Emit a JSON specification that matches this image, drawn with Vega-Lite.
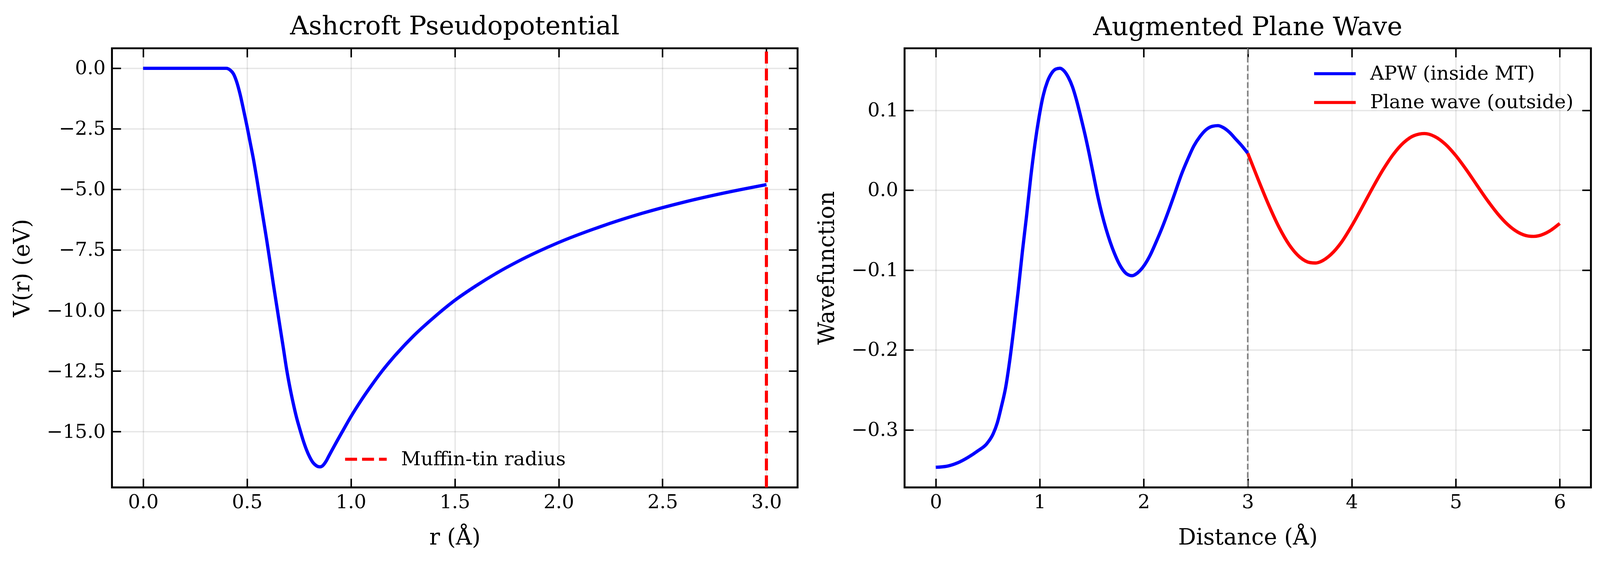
{
  "$schema": "https://vega.github.io/schema/vega-lite/v6.json",
  "background": "white",
  "padding": {"left": 25.6, "top": 31.6, "right": 25, "bottom": 30},
  "bounds": "flush",
  "spacing": 273.1,
  "datasets": {
    "ashcroft": [
      {"r": 0.0, "V": 0.0}, {"r": 0.1, "V": 0.0}, {"r": 0.2, "V": 0.0}, {"r": 0.3, "V": 0.0},
      {"r": 0.4, "V": 0.0}, {"r": 0.42, "V": -0.08}, {"r": 0.435, "V": -0.23}, {"r": 0.45, "V": -0.55},
      {"r": 0.467, "V": -1.08}, {"r": 0.483, "V": -1.7}, {"r": 0.5, "V": -2.39}, {"r": 0.515, "V": -3.05},
      {"r": 0.531, "V": -3.75}, {"r": 0.547, "V": -4.55}, {"r": 0.563, "V": -5.4}, {"r": 0.579, "V": -6.25},
      {"r": 0.595, "V": -7.1}, {"r": 0.611, "V": -8.0}, {"r": 0.627, "V": -8.92}, {"r": 0.643, "V": -9.8},
      {"r": 0.659, "V": -10.68}, {"r": 0.675, "V": -11.55}, {"r": 0.69, "V": -12.39}, {"r": 0.706, "V": -13.15},
      {"r": 0.722, "V": -13.81}, {"r": 0.738, "V": -14.4}, {"r": 0.754, "V": -14.89}, {"r": 0.77, "V": -15.35},
      {"r": 0.786, "V": -15.74}, {"r": 0.802, "V": -16.05}, {"r": 0.818, "V": -16.28}, {"r": 0.83, "V": -16.38},
      {"r": 0.842, "V": -16.44}, {"r": 0.853, "V": -16.45}, {"r": 0.862, "V": -16.42}, {"r": 0.871, "V": -16.34},
      {"r": 0.882, "V": -16.2}, {"r": 0.893, "V": -16.02}, {"r": 0.91, "V": -15.75}, {"r": 0.935, "V": -15.36},
      {"r": 0.96, "V": -14.98}, {"r": 1.0, "V": -14.38}, {"r": 1.05, "V": -13.7}, {"r": 1.1, "V": -13.08},
      {"r": 1.15, "V": -12.5}, {"r": 1.2, "V": -11.98}, {"r": 1.3, "V": -11.06}, {"r": 1.4, "V": -10.28},
      {"r": 1.5, "V": -9.58}, {"r": 1.6, "V": -8.99}, {"r": 1.7, "V": -8.46}, {"r": 1.8, "V": -7.99},
      {"r": 1.9, "V": -7.57}, {"r": 2.0, "V": -7.19}, {"r": 2.2, "V": -6.54}, {"r": 2.4, "V": -5.99},
      {"r": 2.6, "V": -5.53}, {"r": 2.8, "V": -5.14}, {"r": 3.0, "V": -4.8}
    ],
    "apw": [
      {"x": 0.0, "psi": -0.3468, "part": "APW (inside MT)"},
      {"x": 0.109, "psi": -0.3454, "part": "APW (inside MT)"},
      {"x": 0.209, "psi": -0.3413, "part": "APW (inside MT)"},
      {"x": 0.31, "psi": -0.3344, "part": "APW (inside MT)"},
      {"x": 0.41, "psi": -0.3258, "part": "APW (inside MT)"},
      {"x": 0.491, "psi": -0.3173, "part": "APW (inside MT)"},
      {"x": 0.551, "psi": -0.3052, "part": "APW (inside MT)"},
      {"x": 0.591, "psi": -0.2915, "part": "APW (inside MT)"},
      {"x": 0.631, "psi": -0.2709, "part": "APW (inside MT)"},
      {"x": 0.672, "psi": -0.2469, "part": "APW (inside MT)"},
      {"x": 0.712, "psi": -0.2125, "part": "APW (inside MT)"},
      {"x": 0.752, "psi": -0.1713, "part": "APW (inside MT)"},
      {"x": 0.792, "psi": -0.1267, "part": "APW (inside MT)"},
      {"x": 0.833, "psi": -0.0769, "part": "APW (inside MT)"},
      {"x": 0.873, "psi": -0.0323, "part": "APW (inside MT)"},
      {"x": 0.913, "psi": 0.0158, "part": "APW (inside MT)"},
      {"x": 0.953, "psi": 0.057, "part": "APW (inside MT)"},
      {"x": 0.993, "psi": 0.0913, "part": "APW (inside MT)"},
      {"x": 1.034, "psi": 0.1188, "part": "APW (inside MT)"},
      {"x": 1.074, "psi": 0.136, "part": "APW (inside MT)"},
      {"x": 1.114, "psi": 0.1463, "part": "APW (inside MT)"},
      {"x": 1.154, "psi": 0.1514, "part": "APW (inside MT)"},
      {"x": 1.194, "psi": 0.1525, "part": "APW (inside MT)"},
      {"x": 1.235, "psi": 0.149, "part": "APW (inside MT)"},
      {"x": 1.275, "psi": 0.1411, "part": "APW (inside MT)"},
      {"x": 1.315, "psi": 0.1291, "part": "APW (inside MT)"},
      {"x": 1.355, "psi": 0.1119, "part": "APW (inside MT)"},
      {"x": 1.395, "psi": 0.0913, "part": "APW (inside MT)"},
      {"x": 1.436, "psi": 0.069, "part": "APW (inside MT)"},
      {"x": 1.476, "psi": 0.045, "part": "APW (inside MT)"},
      {"x": 1.516, "psi": 0.0192, "part": "APW (inside MT)"},
      {"x": 1.556, "psi": -0.0065, "part": "APW (inside MT)"},
      {"x": 1.597, "psi": -0.0294, "part": "APW (inside MT)"},
      {"x": 1.637, "psi": -0.0485, "part": "APW (inside MT)"},
      {"x": 1.677, "psi": -0.0648, "part": "APW (inside MT)"},
      {"x": 1.717, "psi": -0.0788, "part": "APW (inside MT)"},
      {"x": 1.757, "psi": -0.0905, "part": "APW (inside MT)"},
      {"x": 1.798, "psi": -0.0995, "part": "APW (inside MT)"},
      {"x": 1.838, "psi": -0.105, "part": "APW (inside MT)"},
      {"x": 1.888, "psi": -0.1071, "part": "APW (inside MT)"},
      {"x": 1.939, "psi": -0.1037, "part": "APW (inside MT)"},
      {"x": 2.005, "psi": -0.0941, "part": "APW (inside MT)"},
      {"x": 2.059, "psi": -0.0821, "part": "APW (inside MT)"},
      {"x": 2.119, "psi": -0.0649, "part": "APW (inside MT)"},
      {"x": 2.18, "psi": -0.046, "part": "APW (inside MT)"},
      {"x": 2.24, "psi": -0.0254, "part": "APW (inside MT)"},
      {"x": 2.301, "psi": -0.0031, "part": "APW (inside MT)"},
      {"x": 2.361, "psi": 0.0192, "part": "APW (inside MT)"},
      {"x": 2.421, "psi": 0.0381, "part": "APW (inside MT)"},
      {"x": 2.482, "psi": 0.0553, "part": "APW (inside MT)"},
      {"x": 2.542, "psi": 0.0673, "part": "APW (inside MT)"},
      {"x": 2.602, "psi": 0.0759, "part": "APW (inside MT)"},
      {"x": 2.663, "psi": 0.08, "part": "APW (inside MT)"},
      {"x": 2.713, "psi": 0.0807, "part": "APW (inside MT)"},
      {"x": 2.764, "psi": 0.0783, "part": "APW (inside MT)"},
      {"x": 2.824, "psi": 0.0724, "part": "APW (inside MT)"},
      {"x": 2.884, "psi": 0.0639, "part": "APW (inside MT)"},
      {"x": 2.944, "psi": 0.0553, "part": "APW (inside MT)"},
      {"x": 3.0, "psi": 0.0462, "part": "APW (inside MT)"},
      {"x": 3.0, "psi": 0.0462, "part": "Plane wave (outside)"},
      {"x": 3.1, "psi": 0.0134, "part": "Plane wave (outside)"},
      {"x": 3.2, "psi": -0.0181, "part": "Plane wave (outside)"},
      {"x": 3.3, "psi": -0.0462, "part": "Plane wave (outside)"},
      {"x": 3.4, "psi": -0.0686, "part": "Plane wave (outside)"},
      {"x": 3.5, "psi": -0.0837, "part": "Plane wave (outside)"},
      {"x": 3.6, "psi": -0.0907, "part": "Plane wave (outside)"},
      {"x": 3.65, "psi": -0.0912, "part": "Plane wave (outside)"},
      {"x": 3.7, "psi": -0.0895, "part": "Plane wave (outside)"},
      {"x": 3.8, "psi": -0.0805, "part": "Plane wave (outside)"},
      {"x": 3.9, "psi": -0.0654, "part": "Plane wave (outside)"},
      {"x": 4.0, "psi": -0.0447, "part": "Plane wave (outside)"},
      {"x": 4.1, "psi": -0.0214, "part": "Plane wave (outside)"},
      {"x": 4.2, "psi": 0.0027, "part": "Plane wave (outside)"},
      {"x": 4.3, "psi": 0.0254, "part": "Plane wave (outside)"},
      {"x": 4.4, "psi": 0.0448, "part": "Plane wave (outside)"},
      {"x": 4.5, "psi": 0.0595, "part": "Plane wave (outside)"},
      {"x": 4.6, "psi": 0.0683, "part": "Plane wave (outside)"},
      {"x": 4.7, "psi": 0.0708, "part": "Plane wave (outside)"},
      {"x": 4.8, "psi": 0.067, "part": "Plane wave (outside)"},
      {"x": 4.9, "psi": 0.0575, "part": "Plane wave (outside)"},
      {"x": 5.0, "psi": 0.0433, "part": "Plane wave (outside)"},
      {"x": 5.1, "psi": 0.0259, "part": "Plane wave (outside)"},
      {"x": 5.2, "psi": 0.0069, "part": "Plane wave (outside)"},
      {"x": 5.3, "psi": -0.012, "part": "Plane wave (outside)"},
      {"x": 5.4, "psi": -0.0291, "part": "Plane wave (outside)"},
      {"x": 5.5, "psi": -0.0431, "part": "Plane wave (outside)"},
      {"x": 5.6, "psi": -0.0528, "part": "Plane wave (outside)"},
      {"x": 5.7, "psi": -0.0575, "part": "Plane wave (outside)"},
      {"x": 5.75, "psi": -0.0579, "part": "Plane wave (outside)"},
      {"x": 5.8, "psi": -0.057, "part": "Plane wave (outside)"},
      {"x": 5.9, "psi": -0.0514, "part": "Plane wave (outside)"},
      {"x": 6.0, "psi": -0.0417, "part": "Plane wave (outside)"}
    ]
  },
  "hconcat": [
    {
      "width": 1755.2,
      "height": 1124.1,
      "title": {"text": "Ashcroft Pseudopotential"},
      "layer": [
        {
          "data": {"name": "ashcroft"},
          "mark": {"type": "line", "color": "#0000ff", "strokeWidth": 8.4, "interpolate": "monotone"},
          "encoding": {
            "x": {"field": "r", "type": "quantitative",
                  "scale": {"domain": [-0.15, 3.15], "nice": false, "zero": false},
                  "axis": {"title": "r (Å)", "values": [0, 0.5, 1, 1.5, 2, 2.5, 3], "format": ".1f"}},
            "y": {"field": "V", "type": "quantitative",
                  "scale": {"domain": [-17.3, 0.827], "nice": false, "zero": false},
                  "axis": {"title": "V(r) (eV)", "values": [0, -2.5, -5, -7.5, -10, -12.5, -15], "format": ".1f"}}
          }
        },
        {
          "data": {"values": [{"r": 3.0, "label": "Muffin-tin radius"}]},
          "mark": {"type": "rule", "strokeWidth": 7.9, "strokeDash": [30.6, 12.8]},
          "encoding": {
            "x": {"field": "r", "type": "quantitative", "axis": null,
                  "scale": {"domain": [-0.15, 3.15], "nice": false, "zero": false}},
            "y": {"datum": -17.3, "type": "quantitative", "axis": null,
                  "scale": {"domain": [-17.3, 0.827], "nice": false, "zero": false}},
            "y2": {"datum": 0.827},
            "color": {"field": "label", "type": "nominal",
                      "scale": {"domain": ["Muffin-tin radius"], "range": ["#ff0000"]},
                      "legend": {"title": null, "orient": "none", "legendX": 592.6, "legendY": 1027.4,
                                 "symbolDash": [30.6, 12.8]}}
          }
        },
        {
          "data": {"name": "ashcroft"},
          "mark": {"type": "line", "opacity": 0},
          "encoding": {
            "x": {"field": "r", "type": "quantitative",
                  "scale": {"domain": [-0.15, 3.15], "nice": false, "zero": false},
                  "axis": {"orient": "top", "title": null, "labels": false, "grid": false,
                           "values": [0, 0.5, 1, 1.5, 2, 2.5, 3]}},
            "y": {"field": "V", "type": "quantitative",
                  "scale": {"domain": [-17.3, 0.827], "nice": false, "zero": false},
                  "axis": {"orient": "right", "title": null, "labels": false, "grid": false,
                           "values": [0, -2.5, -5, -7.5, -10, -12.5, -15]}}
          }
        }
      ],
      "resolve": {"axis": {"x": "independent", "y": "independent"}}
    },
    {
      "width": 1757.1,
      "height": 1124.1,
      "title": {"text": "Augmented Plane Wave"},
      "layer": [
        {
          "data": {"values": [{"x": 3.0}]},
          "mark": {"type": "rule", "color": "#808080", "strokeWidth": 3.9, "strokeDash": [14.8, 6.9]},
          "encoding": {
            "x": {"field": "x", "type": "quantitative",
                  "scale": {"domain": [-0.3, 6.3], "nice": false, "zero": false},
                  "axis": {"title": "Distance (Å)", "values": [0, 1, 2, 3, 4, 5, 6], "format": "d"}}
          }
        },
        {
          "data": {"name": "apw"},
          "mark": {"type": "line", "strokeWidth": 8.4, "interpolate": "monotone"},
          "encoding": {
            "x": {"field": "x", "type": "quantitative", "axis": null,
                  "scale": {"domain": [-0.3, 6.3], "nice": false, "zero": false}},
            "y": {"field": "psi", "type": "quantitative",
                  "scale": {"domain": [-0.372, 0.1775], "nice": false, "zero": false},
                  "axis": {"title": "Wavefunction", "values": [-0.3, -0.2, -0.1, 0, 0.1], "format": ".1f"}},
            "color": {"field": "part", "type": "nominal",
                      "scale": {"domain": ["APW (inside MT)", "Plane wave (outside)"], "range": ["#0000ff", "#ff0000"]},
                      "legend": {"title": null, "orient": "none", "legendX": 1044.2, "legendY": 40.4}}
          }
        },
        {
          "data": {"name": "apw"},
          "mark": {"type": "line", "opacity": 0},
          "encoding": {
            "x": {"field": "x", "type": "quantitative",
                  "scale": {"domain": [-0.3, 6.3], "nice": false, "zero": false},
                  "axis": {"orient": "top", "title": null, "labels": false, "grid": false,
                           "values": [0, 1, 2, 3, 4, 5, 6]}},
            "y": {"field": "psi", "type": "quantitative",
                  "scale": {"domain": [-0.372, 0.1775], "nice": false, "zero": false},
                  "axis": {"orient": "right", "title": null, "labels": false, "grid": false,
                           "values": [-0.3, -0.2, -0.1, 0, 0.1]}}
          }
        }
      ],
      "resolve": {"axis": {"x": "independent", "y": "independent"}}
    }
  ],
  "resolve": {"scale": {"color": "independent"}},
  "config": {
    "font": "DejaVu Serif",
    "view": {"stroke": "#000000", "strokeWidth": 4.9},
    "title": {"font": "DejaVu Serif", "fontSize": 66.1, "fontWeight": "normal", "color": "#000000",
              "anchor": "middle", "frame": "group", "baseline": "alphabetic", "offset": 17.7},
    "axis": {
      "domain": false,
      "labelFont": "DejaVu Serif", "labelFontSize": 49.3, "labelColor": "#000000",
      "labelOverlap": false, "labelFlush": false, "labelBound": false,
      "titleFont": "DejaVu Serif", "titleFontSize": 57.2, "titleFontWeight": "normal", "titleColor": "#000000",
      "ticks": true, "tickSize": -22.7, "tickWidth": 3.9, "tickColor": "#000000",
      "grid": true, "gridColor": "#000000", "gridOpacity": 0.1, "gridWidth": 3.25
    },
    "axisX": {"labelPadding": 37, "titlePadding": 37.5},
    "axisY": {"labelPadding": 39.4, "titlePadding": 32.5},
    "legend": {
      "labelFont": "DejaVu Serif", "labelFontSize": 49.3, "labelColor": "#000000", "labelLimit": 1000,
      "symbolType": "stroke", "symbolSize": 11341, "symbolStrokeWidth": 7.9,
      "labelOffset": 32.5, "padding": 0, "clipHeight": 49.3, "rowPadding": 23.7
    }
  }
}
